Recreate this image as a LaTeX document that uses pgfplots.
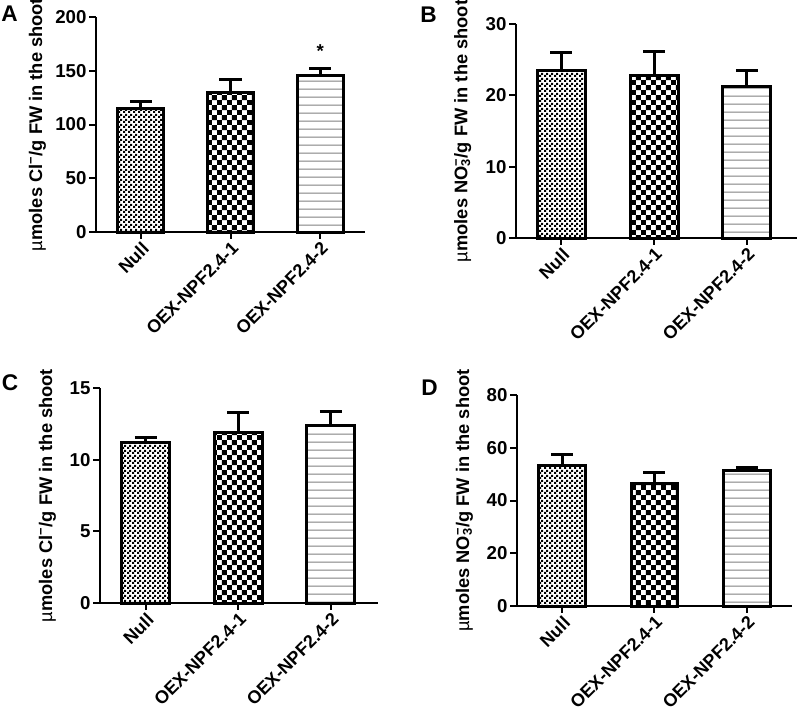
\documentclass[border=0pt]{standalone}
\usepackage{fontspec}
\setmainfont{Liberation Sans}
\usepackage{pgfplots}
\pgfplotsset{compat=1.18}
\usetikzlibrary{patterns}

% bar fills
\pgfdeclarepatternformonly{finecheck}{\pgfqpoint{0pt}{0pt}}{\pgfqpoint{3.4pt}{3.4pt}}{\pgfqpoint{3.4pt}{3.4pt}}{%
  \pgfpathrectangle{\pgfqpoint{0pt}{0pt}}{\pgfqpoint{1.7pt}{1.7pt}}%
  \pgfpathrectangle{\pgfqpoint{1.7pt}{1.7pt}}{\pgfqpoint{1.7pt}{1.7pt}}%
  \pgfusepath{fill}}
\pgfdeclarepatternformonly{coarsecheck}{\pgfqpoint{0pt}{0pt}}{\pgfqpoint{7.4pt}{7.4pt}}{\pgfqpoint{7.4pt}{7.4pt}}{%
  \pgfpathrectangle{\pgfqpoint{0pt}{0pt}}{\pgfqpoint{3.7pt}{3.7pt}}%
  \pgfpathrectangle{\pgfqpoint{3.7pt}{3.7pt}}{\pgfqpoint{3.7pt}{3.7pt}}%
  \pgfusepath{fill}}
\pgfdeclarepatternformonly{hstripes}{\pgfqpoint{0pt}{0pt}}{\pgfqpoint{1pt}{5.9pt}}{\pgfqpoint{1pt}{5.9pt}}{%
  \pgfpathrectangle{\pgfqpoint{0pt}{2.6pt}}{\pgfqpoint{1pt}{0.7pt}}%
  \pgfusepath{fill}}

\newcommand{\tickfont}{\fontsize{14}{16}\selectfont\bfseries}
\newcommand{\xtickfont}{\fontsize{13.5}{15}\selectfont\bfseries}
\newcommand{\labfont}{\fontsize{13.7}{16}\selectfont\bfseries}

\pgfplotsset{
  panel/.style={
    scale only axis, anchor=south west, clip=false,
    ybar, ymin=0,
    axis lines=left, axis line style={-, line width=1.5pt},
    xtick={0,1,2}, xticklabels={Null,OEX-NPF2.4-1,OEX-NPF2.4-2},
    tick align=outside, major tick length=5pt,
    tick style={line width=1.5pt, black},
    minor tick num=0,
    xticklabel style={rotate=45, anchor=north east, font=\xtickfont, inner sep=1pt},
    yticklabel style={font=\tickfont, inner sep=2pt},
  },
  ylab/.style={every axis y label/.style={at={(rel axis cs:0,0.5)}, xshift=#1, rotate=90, anchor=center, font=\labfont}},
  mybar/.style={draw=black, line width=2.25pt, bar shift=0pt,
    error bars/y dir=plus, error bars/y explicit,
    error bars/error mark=|,
    error bars/error bar style={line width=2.25pt, black},
    error bars/error mark options={line width=2.25pt, mark size=8.25pt, black}},
}

\begin{document}
\begin{tikzpicture}
\useasboundingbox (0,0) rectangle (598.5pt,531pt);

% A
\begin{axis}[panel, at={(72pt,357pt)}, width=201.75pt, height=161.25pt,
  xmin=-0.5, xmax=2.5, ymax=200, ytick={0,50,...,200}, yticklabels={0,50,100,150,200},
  bar width=34.5pt, ylab=-44pt,
  ylabel={{\mdseries µ}moles Cl\textsuperscript{−}/g FW in the shoot}]
\addplot[mybar, pattern=finecheck] coordinates {(0,115.3) +- (0,5.7)};
\addplot[mybar, pattern=coarsecheck] coordinates {(1,130.2) +- (0,12.0)};
\addplot[mybar, pattern=hstripes, pattern color=gray] coordinates {(2,145.4) +- (0,7.0)};
\node[font=\tickfont] at (axis cs:2,168) {*};
\end{axis}

% B
\begin{axis}[panel, at={(387pt,352.5pt)}, width=210.75pt, height=160.5pt,
  xmin=-0.49, xmax=2.54, ymax=30, ytick={0,10,20,30}, yticklabels={0,10,20,30},
  bar width=36pt, ylab=-40pt,
  ylabel={{\mdseries µ}moles NO\rlap{\textsubscript{3}}\textsuperscript{−}/g FW in the shoot}]
\addplot[mybar, pattern=finecheck] coordinates {(0,23.45) +- (0,2.55)};
\addplot[mybar, pattern=coarsecheck] coordinates {(1,22.75) +- (0,3.4)};
\addplot[mybar, pattern=hstripes, pattern color=gray] coordinates {(2,21.2) +- (0,2.25)};
\end{axis}

% C
\begin{axis}[panel, at={(75pt,78.75pt)}, width=208.5pt, height=161.25pt,
  xmin=-0.495, xmax=2.51, ymax=15, ytick={0,5,10,15}, yticklabels={0,5,10,15},
  bar width=36pt, ylab=-39.5pt,
  ylabel={{\mdseries µ}moles Cl\textsuperscript{−}/g FW in the shoot}]
\addplot[mybar, pattern=finecheck] coordinates {(0,11.2) +- (0,0.38)};
\addplot[mybar, pattern=coarsecheck] coordinates {(1,11.88) +- (0,1.42)};
\addplot[mybar, pattern=hstripes, pattern color=gray] coordinates {(2,12.39) +- (0,0.98)};
\end{axis}

% D
\begin{axis}[panel, at={(387.75pt,76.5pt)}, width=206.25pt, height=158.25pt,
  xmin=-0.488, xmax=2.49, ymax=80, ytick={0,20,...,80}, yticklabels={0,20,40,60,80},
  bar width=35pt, ylab=-39.5pt,
  ylabel={{\mdseries µ}moles NO\rlap{\textsubscript{3}}\textsuperscript{−}/g FW in the shoot}]
\addplot[mybar, pattern=finecheck] coordinates {(0,53.2) +- (0,4.3)};
\addplot[mybar, pattern=coarsecheck] coordinates {(1,46.5) +- (0,4.0)};
\addplot[mybar, pattern=hstripes, pattern color=gray] coordinates {(2,51.2) +- (0,1.4)};
\end{axis}

\node[font=\fontsize{17}{18}\selectfont\bfseries] at (7.1pt,520.9pt) {A};
\node[font=\fontsize{17}{18}\selectfont\bfseries] at (321.4pt,520.1pt) {B};
\node[font=\fontsize{17}{18}\selectfont\bfseries] at (7.5pt,244.1pt) {C};
\node[font=\fontsize{17}{18}\selectfont\bfseries] at (322.1pt,240pt) {D};
\end{tikzpicture}
\end{document}
